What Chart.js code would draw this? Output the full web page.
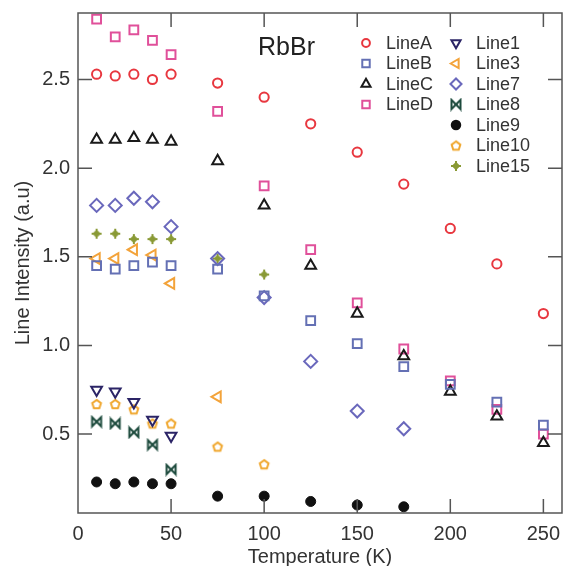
<!DOCTYPE html>
<html>
<head>
<meta charset="utf-8">
<script src="https://cdn.jsdelivr.net/npm/chart.js@4/dist/chart.umd.min.js"></script>
<style>
  html, body { margin: 0; padding: 0; background: #fff; }
  #wrap { width: 563px; height: 566px; }
</style>
</head>
<body>
<div id="wrap"><canvas id="grafica"></canvas></div>
<script>
// temperatures (K) and line intensities
var temps = [10, 20, 30, 40, 50, 75, 100, 125, 150, 175, 200, 225, 250];
var lineA = [2.53, 2.52, 2.53, 2.50, 2.53, 2.48, 2.40, 2.25, 2.09, 1.91, 1.66, 1.46, 1.18];
var lineB = [1.45, 1.43, 1.45, 1.47, 1.45, 1.43, 1.28, 1.14, 1.01, 0.88, 0.78, 0.68, 0.55];
var lineC = [2.16, 2.16, 2.17, 2.16, 2.15, 2.04, 1.79, 1.45, 1.18, 0.94, 0.74, 0.60, 0.45];
var lineD = [2.84, 2.74, 2.78, 2.72, 2.64, 2.32, 1.90, 1.54, 1.24, 0.98, 0.80, 0.64, 0.50];
var line1 = [0.75, 0.74, 0.68, 0.58, 0.49];
var line3 = [1.49, 1.49, 1.54, 1.51, 1.35, 0.71];
var line7 = [1.79, 1.79, 1.83, 1.81, 1.67, 1.49, 1.27, 0.91, 0.63, 0.53];
var line8 = [0.57, 0.56, 0.51, 0.44, 0.30];
var line9 = [0.23, 0.22, 0.23, 0.22, 0.22, 0.15, 0.15, 0.12, 0.10, 0.09];
var line10 = [0.67, 0.67, 0.64, 0.56, 0.56, 0.43, 0.33];
var line15 = [1.63, 1.63, 1.60, 1.60, 1.60, 1.49, 1.40];

var xTicks = [0, 50, 100, 150, 200, 250];
var yTicks = [0.5, 1.0, 1.5, 2.0, 2.5];

var FONT = '"Liberation Sans", Arial, sans-serif';
var AXIS = '#555';

function toPoints(vals) {
    var pts = [];
    for (var i = 0; i < vals.length; i++) {
        if (vals[i] != null) pts.push({ x: temps[i], y: vals[i] });
    }
    return pts;
}

// small canvases for the marker shapes Chart.js does not have
function marker(size, draw) {
    var c = document.createElement('canvas');
    c.width = size; c.height = size;
    var g = c.getContext('2d');
    draw(g, size / 2);
    return c;
}
var bowtie = marker(14, function (g, c) {
    var r = 4.5;
    g.strokeStyle = '#1c4a3c';
    g.lineWidth = 2;
    g.beginPath();
    g.moveTo(c - r, c - r);
    g.lineTo(c - r, c + r);
    g.lineTo(c + r, c - r);
    g.lineTo(c + r, c + r);
    g.closePath();
    g.stroke();
});
var pentagon = marker(14, function (g, c) {
    var r = 4.6;
    g.strokeStyle = '#f0a830';
    g.lineWidth = 2;
    g.beginPath();
    for (var k = 0; k < 5; k++) {
        var a = -Math.PI / 2 + k * 2 * Math.PI / 5;
        var px = c + r * Math.cos(a), py = c + 0.5 + r * Math.sin(a);
        if (k === 0) g.moveTo(px, py); else g.lineTo(px, py);
    }
    g.closePath();
    g.stroke();
});
var starDia = marker(14, function (g, c) {
    g.strokeStyle = '#8a9a36';
    g.lineWidth = 2;
    g.beginPath();
    g.moveTo(c - 5, c); g.lineTo(c + 5, c);
    g.moveTo(c, c - 5); g.lineTo(c, c + 5);
    g.stroke();
    g.lineWidth = 1.5;
    g.beginPath();
    g.moveTo(c, c - 3.2); g.lineTo(c + 3.2, c); g.lineTo(c, c + 3.2); g.lineTo(c - 3.2, c);
    g.closePath();
    g.stroke();
});

function ds(label, vals, color, style, opts) {
    var d = {
        label: label,
        data: toPoints(vals),
        borderColor: color,
        backgroundColor: 'transparent',
        pointStyle: style,
        pointRadius: 4.6,
        pointBorderWidth: 2,
        pointRotation: 0,
        showLine: false
    };
    for (var k in opts) d[k] = opts[k];
    return d;
}

var datasets = [
    ds('LineA', lineA, '#e8373f', 'circle', {}),
    ds('LineB', lineB, '#6470b4', 'rect', { pointRadius: 6.2 }),
    ds('LineC', lineC, '#1a1a1a', 'triangle', { pointRadius: 6.2 }),
    ds('LineD', lineD, '#e0509a', 'rect', { pointRadius: 6.2 }),
    ds('Line1', line1, '#2b2466', 'triangle', { pointRadius: 6.2, pointRotation: 180 }),
    ds('Line3', line3, '#f3a33a', 'triangle', { pointRadius: 6.2, pointRotation: 270 }),
    ds('Line7', line7, '#6a68bc', 'rectRot', { pointRadius: 6.5 }),
    ds('Line8', line8, '#1c4a3c', bowtie, {}),
    ds('Line9', line9, '#111111', 'circle', { backgroundColor: '#111111', pointRadius: 5, pointBorderWidth: 1 }),
    ds('Line10', line10, '#f0a830', pentagon, {}),
    ds('Line15', line15, '#8a9a36', starDia, {})
];

// frame, inward ticks on all four sides, sample name, two-column legend
var framePlugin = {
    id: 'frame',
    afterDraw: function (chart) {
        var ctx = chart.ctx, a = chart.chartArea;
        var xs = chart.scales.x, ys = chart.scales.y;
        ctx.save();
        ctx.strokeStyle = AXIS;
        ctx.lineWidth = 1.5;
        ctx.strokeRect(a.left, a.top, a.right - a.left, a.bottom - a.top);
        var tl = 14;
        ctx.beginPath();
        xTicks.forEach(function (v) {
            var px = xs.getPixelForValue(v);
            if (px <= a.left + 1) return;
            ctx.moveTo(px, a.bottom); ctx.lineTo(px, a.bottom - tl);
            ctx.moveTo(px, a.top); ctx.lineTo(px, a.top + tl);
        });
        yTicks.forEach(function (v) {
            var py = ys.getPixelForValue(v);
            ctx.moveTo(a.left, py); ctx.lineTo(a.left + tl, py);
            ctx.moveTo(a.right, py); ctx.lineTo(a.right - tl, py);
        });
        ctx.stroke();

        ctx.fillStyle = '#222';
        ctx.font = '25px ' + FONT;
        ctx.textBaseline = 'middle';
        ctx.textAlign = 'left';
        ctx.fillText('RbBr', a.left + 180, a.top + 35);

        var cols = [
            { mx: a.left + 288, tx: a.left + 308, items: [0, 1, 2, 3] },
            { mx: a.left + 378, tx: a.left + 398, items: [4, 5, 6, 7, 8, 9, 10] }
        ];
        ctx.font = '18px ' + FONT;
        cols.forEach(function (col) {
            col.items.forEach(function (idx, row) {
                var d = chart.data.datasets[idx];
                var y = a.top + 30 + row * 20.5;
                ctx.save();
                ctx.strokeStyle = d.borderColor;
                ctx.fillStyle = d.backgroundColor;
                ctx.lineWidth = 2;
                Chart.helpers.drawPoint(ctx, {
                    pointStyle: d.pointStyle,
                    rotation: d.pointRotation,
                    radius: d.pointRadius * 0.85,
                    borderWidth: 2
                }, col.mx, y);
                ctx.restore();
                ctx.fillStyle = '#333';
                ctx.fillText(d.label, col.tx, y + 1);
            });
        });
        ctx.restore();
    }
};

var ctx = document.getElementById('grafica').getContext('2d');
new Chart(ctx, {
    type: 'scatter',
    data: { datasets: datasets },
    options: {
        responsive: true,
        maintainAspectRatio: false,
        animation: false,
        layout: { autoPadding: false, padding: { top: 13, right: 1, left: 0, bottom: 0 } },
        plugins: { legend: { display: false }, tooltip: { enabled: false } },
        scales: {
            x: {
                type: 'linear',
                min: 0, max: 260,
                grid: { display: false, drawTicks: false },
                border: { display: false },
                ticks: {
                    stepSize: 50, includeBounds: false, padding: 9,
                    color: '#333', font: { family: FONT, size: 20 }, maxRotation: 0
                },
                title: {
                    display: true, text: 'Temperature (K)', color: '#333',
                    font: { family: FONT, size: 20 }, padding: { top: 0, bottom: -3 }
                },
                afterFit: function (s) { s.height = 53; s.paddingLeft = 0; s.paddingRight = 0; }
            },
            y: {
                type: 'linear',
                min: 0.055, max: 2.875,
                grid: { display: false, drawTicks: false },
                border: { display: false },
                ticks: {
                    stepSize: 0.5, includeBounds: false, padding: 8,
                    color: '#333', font: { family: FONT, size: 20 },
                    callback: function (v) { return v.toFixed(1); }
                },
                title: {
                    display: true, text: 'Line Intensity (a.u)', color: '#333',
                    font: { family: FONT, size: 20 }, padding: { top: 11, bottom: 0 }
                },
                afterFit: function (s) { s.width = 78; s.paddingTop = 0; s.paddingBottom = 0; }
            }
        }
    },
    plugins: [framePlugin]
});
</script>
</body>
</html>
